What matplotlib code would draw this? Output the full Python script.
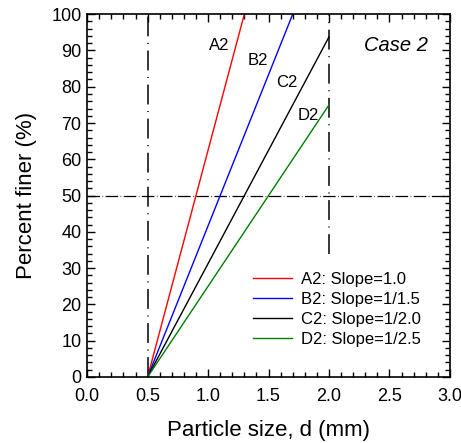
import matplotlib
matplotlib.use('Agg')
import matplotlib.pyplot as plt
from matplotlib.ticker import MultipleLocator

plt.rcParams['font.family'] = ['Liberation Sans', 'DejaVu Sans']

# Gradation lines: start at d = 0.5 mm, end point per case
names = ['A2', 'B2', 'C2', 'D2']
slopes = ['1.0', '1/1.5', '1/2.0', '1/2.5']
colors = ['red', 'blue', 'black', 'green']
d_start = 0.5
d_end = [1.3, 1.7, 2.0, 2.0]
p_end = [100.0, 100.0, 93.75, 75.0]

# curve label positions (d, percent)
label_pos = [(1.09, 91.5), (1.41, 87.3), (1.65, 81.3), (1.83, 72.2)]

fig = plt.figure(figsize=(4.61, 4.43), dpi=100)
ax = fig.add_axes([0.189, 0.149, 0.787, 0.819])

# reference lines
ax.plot([0.5, 0.5], [0, 100], color='black', lw=1.1, dashes=[13, 4.3, 0.7, 4.3])
ax.plot([2.0, 2.0], [34, 100], color='black', lw=1.1, dashes=[13, 4.3, 0.7, 4.3])
ax.plot([0, 3.0], [50, 50], color='black', lw=0.9, dashes=[10, 2, 0.5, 2])

for name, s, c, x1, y1 in zip(names, slopes, colors, d_end, p_end):
    ax.plot([d_start, x1], [0, y1], color=c, lw=1.0, label=f'{name}: Slope={s}')

for name, (x, y) in zip(names, label_pos):
    ax.text(x, y, name, fontsize=12, ha='center', va='center')

ax.text(2.55, 91.5, 'Case 2', fontsize=14.5, style='italic', ha='center', va='center')

ax.set_xlim(0, 3.0)
ax.set_ylim(0, 100)
ax.xaxis.set_major_locator(MultipleLocator(0.5))
ax.xaxis.set_minor_locator(MultipleLocator(0.1))
ax.yaxis.set_major_locator(MultipleLocator(10))
ax.yaxis.set_minor_locator(MultipleLocator(2))
ax.xaxis.set_major_formatter(lambda v, p: f'{v:.1f}')
ax.tick_params(which='both', direction='in', top=True, right=True, labelsize=13, width=1.0)
ax.tick_params(which='major', length=6)
ax.tick_params(which='minor', length=3.5)
ax.tick_params(axis='x', pad=8)
ax.tick_params(axis='y', pad=4)
for sp in ax.spines.values():
    sp.set_linewidth(1.2)

ax.set_xlabel('Particle size, d (mm)', fontsize=16, labelpad=11)
ax.set_ylabel('Percent finer (%)', fontsize=16, labelpad=10)

ax.legend(loc='upper left', bbox_to_anchor=(0.457, 0.29), frameon=False, fontsize=12,
          borderaxespad=0, borderpad=0, handlelength=2.35, handletextpad=0.55,
          labelspacing=0.3)

fig.savefig('out.png', dpi=100)
